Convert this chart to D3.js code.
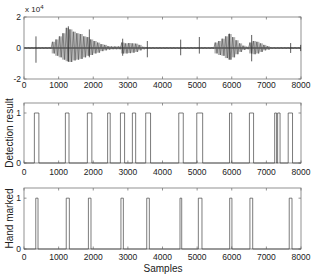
<!DOCTYPE html>
<html>
<head>
<meta charset="utf-8">
<script src="https://cdn.jsdelivr.net/npm/d3@7"></script>
<style>
    body { margin: 0; background: #fff; }
    text { font-family: "Liberation Sans", Arial, sans-serif; fill: #222; }
</style>
</head>
<body>
<div id="chart"></div>
<script>
// waveform envelope, units of 1e4, one value per 100-sample bin
var binSize = 100;
var waveHi = [0.06, 0.06, 0.06, 0.06, 0.06, 0.06, 0.06, 0.06, 0.4, 0.55,
    0.75, 0.95, 1.3, 1.2, 1.05, 0.95, 0.9, 0.75, 0.7, 0.55,
    0.45, 0.35, 0.25, 0.2, 0.12, 0.1, 0.1, 0.1, 0.35, 0.3,
    0.32, 0.3, 0.28, 0.2, 0.08, 0.06, 0.06, 0.06, 0.06, 0.06,
    0.06, 0.06, 0.06, 0.06, 0.06, 0.06, 0.06, 0.06, 0.06, 0.06,
    0.06, 0.06, 0.06, 0.06, 0.06, 0.35, 0.45, 0.6, 0.75, 0.9,
    0.7, 0.5, 0.3, 0.15, 0.08, 0.35, 0.45, 0.4, 0.3, 0.2,
    0.12, 0.06, 0.06, 0.06, 0.06, 0.06, 0.06, 0.06, 0.06, 0.06];
var waveLo = [-0.06, -0.06, -0.06, -0.06, -0.06, -0.06, -0.06, -0.06, -0.35, -0.5,
    -0.6, -0.75, -0.85, -0.9, -0.8, -0.75, -0.7, -0.6, -0.5, -0.45,
    -0.35, -0.3, -0.2, -0.15, -0.1, -0.08, -0.08, -0.08, -0.35, -0.35,
    -0.33, -0.3, -0.25, -0.15, -0.08, -0.06, -0.06, -0.06, -0.06, -0.06,
    -0.06, -0.06, -0.06, -0.06, -0.06, -0.06, -0.06, -0.06, -0.06, -0.06,
    -0.06, -0.06, -0.06, -0.06, -0.06, -0.35, -0.45, -0.5, -0.65, -0.75,
    -0.6, -0.4, -0.25, -0.12, -0.08, -0.35, -0.4, -0.35, -0.25, -0.15,
    -0.1, -0.06, -0.06, -0.06, -0.06, -0.06, -0.06, -0.06, -0.06, -0.06];
// isolated spikes: [sample, max, min]
var spikes = [[346, 0.75, -0.95], [1281, 1.4, -0.9], [1887, 1.2, -0.6], [2850, 0.6, -0.5],
    [3562, 0.45, -0.6], [4525, 0.54, -0.47], [5064, 0.71, -0.36], [5930, 0.93, -0.75],
    [6575, 0.84, -0.86], [7701, 0.32, -0.32], [7990, 0.2, -0.2]];

// [start, end] sample of each segment marked 1
var detected = [[300, 430], [1195, 1300], [1830, 1960], [2415, 2490], [2785, 2905],
    [3130, 3225], [3515, 3655], [4470, 4600], [4990, 5160], [5935, 6000],
    [6510, 6630], [7240, 7295], [7325, 7395], [7630, 7755]];
var handMarked = [[340, 405], [1220, 1310], [1860, 1935], [2800, 2870], [3545, 3620],
    [4505, 4555], [5035, 5140], [5940, 6005], [6525, 6605], [7660, 7740]];

var xTicks = [0, 1000, 2000, 3000, 4000, 5000, 6000, 7000, 8000];
var waveTicks = [-2, 0, 2];
var flagTicks = [0, 1];

var width = 313, height = 275;
var svg = d3.select("#chart").append("svg")
    .attr("width", width)
    .attr("height", height);

var x = d3.scaleLinear().domain([0, 8000]).range([24, 301]);

function drawBox(y, yTicks, labelY) {
    var g = svg.append("g");
    var x0 = x.range()[0], x1 = x.range()[1];
    var y0 = y.range()[0], y1 = y.range()[1];
    g.append("rect")
        .attr("x", x0).attr("y", y1)
        .attr("width", x1 - x0).attr("height", y0 - y1)
        .attr("fill", "none").attr("stroke", "#777").attr("stroke-width", 0.8);
    xTicks.forEach(function (t) {
        g.append("line").attr("x1", x(t)).attr("x2", x(t)).attr("y1", y0).attr("y2", y0 - 2.5)
            .attr("stroke", "#777").attr("stroke-width", 0.8);
        g.append("line").attr("x1", x(t)).attr("x2", x(t)).attr("y1", y1).attr("y2", y1 + 2.5)
            .attr("stroke", "#777").attr("stroke-width", 0.8);
        g.append("text").attr("x", x(t)).attr("y", labelY)
            .attr("text-anchor", "middle").attr("font-size", "8.5px").text(t);
    });
    yTicks.forEach(function (t) {
        g.append("line").attr("x1", x0).attr("x2", x0 + 2.5).attr("y1", y(t)).attr("y2", y(t))
            .attr("stroke", "#777").attr("stroke-width", 0.8);
        g.append("line").attr("x1", x1).attr("x2", x1 - 2.5).attr("y1", y(t)).attr("y2", y(t))
            .attr("stroke", "#777").attr("stroke-width", 0.8);
        g.append("text").attr("x", x0 - 3).attr("y", y(t)).attr("dy", "0.35em")
            .attr("text-anchor", "end").attr("font-size", "8.5px").text(t);
    });
}

// top: waveform
var yWave = d3.scaleLinear().domain([-2, 2]).range([79, 17]);
drawBox(yWave, waveTicks, 88);

// dense oscillation shown as a grey band per bin
svg.selectAll(".band")
    .data(waveHi)
    .enter().append("rect")
    .attr("class", "band")
    .attr("x", function (d, i) { return x(i * binSize); })
    .attr("width", x(binSize) - x(0))
    .attr("y", function (d) { return yWave(d); })
    .attr("height", function (d, i) { return yWave(waveLo[i]) - yWave(d); })
    .attr("fill", "#b4b4b4");

svg.append("line")
    .attr("x1", x(0)).attr("x2", x(8000))
    .attr("y1", yWave(0)).attr("y2", yWave(0))
    .attr("stroke", "#222").attr("stroke-width", 1);

var zig = [];
waveHi.forEach(function (h, i) {
    zig.push([i * binSize + 25, h]);
    zig.push([i * binSize + 75, waveLo[i]]);
});
svg.append("path")
    .attr("d", d3.line().x(function (d) { return x(d[0]); }).y(function (d) { return yWave(d[1]); })(zig))
    .attr("fill", "none").attr("stroke", "#555").attr("stroke-width", 0.6);

svg.selectAll(".spike")
    .data(spikes)
    .enter().append("line")
    .attr("class", "spike")
    .attr("x1", function (d) { return x(d[0]); })
    .attr("x2", function (d) { return x(d[0]); })
    .attr("y1", function (d) { return yWave(d[1]); })
    .attr("y2", function (d) { return yWave(d[2]); })
    .attr("stroke", "#333").attr("stroke-width", 0.8);

svg.append("text").attr("x", 25).attr("y", 12).attr("font-size", "8px")
    .text("x 10")
    .append("tspan").attr("dy", "-3").attr("font-size", "6px").text("4");

// step traces
function stepPath(pulses) {
    var pts = [[0, 0]];
    pulses.forEach(function (p) {
        pts.push([p[0], 0], [p[0], 1], [p[1], 1], [p[1], 0]);
    });
    pts.push([8000, 0]);
    return pts;
}

function drawFlags(pulses, y, labelY, title) {
    drawBox(y, flagTicks, labelY);
    svg.append("path")
        .attr("d", d3.line().x(function (d) { return x(d[0]); }).y(function (d) { return y(d[1]); })(stepPath(pulses)))
        .attr("fill", "none").attr("stroke", "#444").attr("stroke-width", 0.7);
    var mid = (y.range()[0] + y.range()[1]) / 2;
    svg.append("text")
        .attr("transform", "translate(13," + mid + ") rotate(-90)")
        .attr("text-anchor", "middle").attr("font-size", "10px").text(title);
}

var yDet = d3.scaleLinear().domain([0, 1.2]).range([163, 103]);
drawFlags(detected, yDet, 175, "Detection result");

var yHand = d3.scaleLinear().domain([0, 1.2]).range([249, 188]);
drawFlags(handMarked, yHand, 260, "Hand marked");

svg.append("text").attr("x", 163).attr("y", 272)
    .attr("text-anchor", "middle").attr("font-size", "10px").text("Samples");
</script>
</body>
</html>
